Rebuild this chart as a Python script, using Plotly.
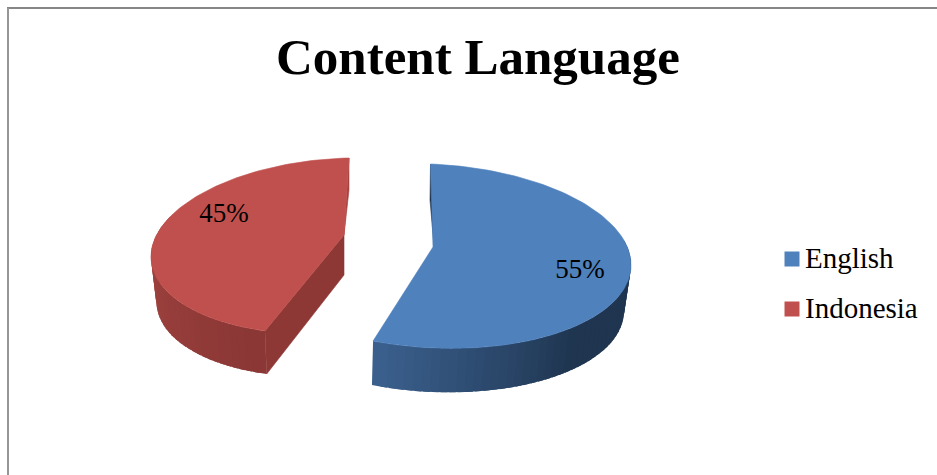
import math
import plotly.graph_objects as go

TITLE = "Content Language"
CATEGORIES = ["English", "Indonesia"]
VALUES = [55, 45]
FACE_COLORS = ["#4f81bd", "#c0504d"]
FRAME = "#868686"
SERIF = "Liberation Serif"

# Projection of each exploded slice on the page: (cx, cy, rx, ry, skew_x, skew_y)
TOP_RING = [(432.5, 256, 198.5, 92, -2, 8), (335, 246, 183.5, 88, 14, -4)]
LOW_RING = [(430, 302, 194, 90, -2, 8), (335, 291, 178, 86, 14, -4)]
APEX_TOP = [(433, 247), (344, 235)]
APEX_LOW = [(433, 290), (344, 275)]
LABEL_AT = [(580, 271), (224, 215)]
LEGEND_Y = [259, 309]


def ring(p, deg):
    cx, cy, rx, ry, a, b = p
    t = math.radians(deg)
    return cx + rx * math.sin(t) + a * math.cos(t), cy - ry * math.cos(t) + b * math.sin(t)


def mix(c1, c2, f):
    v = [round(c1[i] + (c2[i] - c1[i]) * f) for i in range(3)]
    return f"rgb({v[0]},{v[1]},{v[2]})"


fig = go.Figure()


def poly(pts, color, edge=0.6):
    xs = [p[0] for p in pts] + [pts[0][0]]
    ys = [p[1] for p in pts] + [pts[0][1]]
    fig.add_trace(go.Scatter(x=xs, y=ys, mode="lines", fill="toself", fillcolor=color,
                             line=dict(color=color, width=edge), hoverinfo="skip", showlegend=False))


def wall(k, d0, d1, color):
    n = 6
    top = [ring(TOP_RING[k], d0 + (d1 - d0) * i / n) for i in range(n + 1)]
    low = [ring(LOW_RING[k], d1 - (d1 - d0) * i / n) for i in range(n + 1)]
    poly(top + low, color, edge=0)


# Slice spans follow from the values, clockwise from the top
split = 360 * VALUES[0] / sum(VALUES)
spans = [(0.0, split), (split, 360.0)]

# Red slice: back sliver, outer wall, cut wall (strips overlap so no seams show)
s0, s1 = spans[1]
poly([ring(TOP_RING[1], 360), (349, 190), APEX_TOP[1]], "#a5423f")
N = 36
w0, w1 = s0, 292.0
for i in range(N - 1, -1, -1):
    d0 = w0 + (w1 - w0) * i / N
    d1 = min(w1, w0 + (w1 - w0) * (i + 1) / N + 2)
    wall(1, d0, d1, mix((0x8a, 0x37, 0x35), (0xa6, 0x46, 0x43), i / (N - 1)))
poly([APEX_TOP[1], ring(TOP_RING[1], s0), ring(LOW_RING[1], s0), APEX_LOW[1]], "#8e3836")

# Blue slice: back sliver, outer wall
s0, s1 = spans[0]
poly([ring(TOP_RING[0], 0), (430, 200), (434, 246), (437, 243)], "#1f3550")
M = 48
w0, w1 = 75.0, s1
for i in range(M):
    d0 = max(w0, w0 + (w1 - w0) * i / M - 2)
    d1 = w0 + (w1 - w0) * (i + 1) / M
    wall(0, d0, d1, mix((0x3a, 0x5f, 0x8c), (0x1f, 0x35, 0x50), min(1.0, (w1 - d1) / 60.0)))

# Top faces
for k in (1, 0):
    a, b = spans[k]
    n = 120
    pts = [APEX_TOP[k]] + [ring(TOP_RING[k], a + (b - a) * i / n) for i in range(n + 1)]
    poly(pts, FACE_COLORS[k])

# Percent labels
fig.add_trace(go.Scatter(
    x=[p[0] for p in LABEL_AT], y=[p[1] for p in LABEL_AT], mode="text",
    text=[f"{v}%" for v in VALUES], textposition="middle center",
    textfont=dict(family=SERIF, size=27, color="#000000"),
    hoverinfo="skip", showlegend=False))

# Legend
for name, col, y in zip(CATEGORIES, FACE_COLORS, LEGEND_Y):
    fig.add_trace(go.Scatter(x=[792], y=[y], mode="markers", marker=dict(symbol="square", size=15, color=col),
                             hoverinfo="skip", showlegend=False))
    fig.add_annotation(x=803, y=y - 1, text=name, xanchor="left", yanchor="middle", showarrow=False,
                       font=dict(family=SERIF, size=29, color="#000000"))

fig.add_annotation(x=478, y=57, text=f"<b>{TITLE}</b>", xanchor="center", yanchor="middle", showarrow=False,
                   font=dict(family=SERIF, size=51, color="#000000"))

fig.update_layout(
    width=937, height=475, autosize=False,
    margin=dict(l=0, r=0, t=0, b=0),
    paper_bgcolor="#ffffff", plot_bgcolor="#ffffff",
    xaxis=dict(range=[0, 937], visible=False, fixedrange=True),
    yaxis=dict(range=[475, 0], visible=False, fixedrange=True),
    shapes=[
        dict(type="line", x0=7, x1=937, y0=8, y1=8, line=dict(color=FRAME, width=2)),
        dict(type="line", x0=8, x1=8, y0=8, y1=475, line=dict(color="#969696", width=2)),
    ],
)
fig.write_html("out.html", config=dict(displayModeBar=False),
               post_script="document.body.style.margin='0';document.body.style.overflow='hidden';")
